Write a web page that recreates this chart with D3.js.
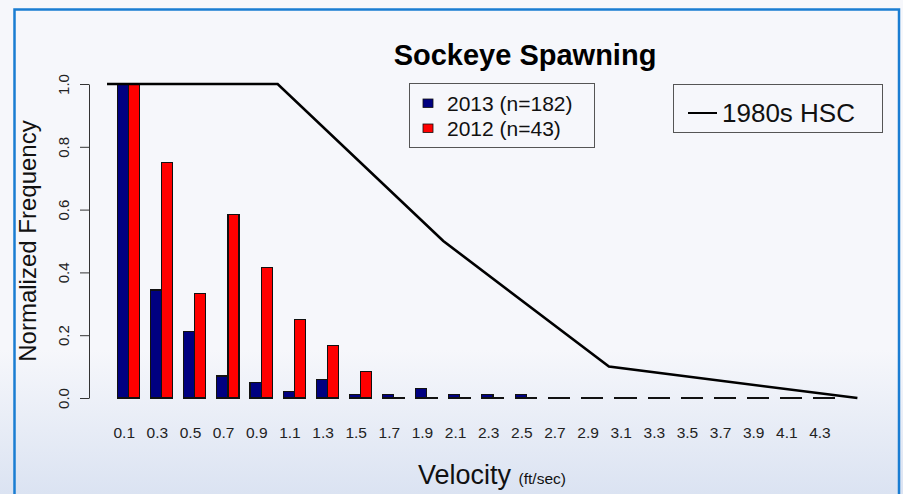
<!DOCTYPE html>
<html lang="en">
<head>
	<meta charset="utf-8">
	<title>Sockeye Spawning</title>
	<script src="https://cdn.jsdelivr.net/npm/d3@7"></script>
	<style>
		body { margin: 0; padding: 0; background: #f5f6fa; }
		svg { display: block; font-family: "Liberation Sans", Arial, sans-serif; }
	</style>
</head>
<body>
<script type="text/javascript">

	// Data
	var velocities = ["0.1", "0.3", "0.5", "0.7", "0.9", "1.1", "1.3", "1.5", "1.7", "1.9", "2.1",
	                  "2.3", "2.5", "2.7", "2.9", "3.1", "3.3", "3.5", "3.7", "3.9", "4.1", "4.3"];
	var series = ["2013", "2012"];
	var seriesLabels = ["2013 (n=182)", "2012 (n=43)"];
	var values2013 = [1.0, 0.344, 0.213, 0.07, 0.05, 0.02, 0.06, 0.01, 0.01, 0.03, 0.01,
	                  0.01, 0.01, 0, 0, 0, 0, 0, 0, 0, 0, 0];
	var values2012 = [1.0, 0.75, 0.333, 0.583, 0.417, 0.25, 0.167, 0.083, 0, 0, 0,
	                  0, 0, 0, 0, 0, 0, 0, 0, 0, 0, 0];
	// 1980s habitat suitability curve (velocity, suitability)
	var hscVelocity = [-0.03, 1.0, 2.0, 3.0, 4.5];
	var hscValue = [1.0, 1.0, 0.5, 0.1, 0.0];
	var yTicks = [0, 0.2, 0.4, 0.6, 0.8, 1.0];

	var colors = {"2013": "#000080", "2012": "#ff0000"};

	var width = 903, height = 494;

	var svg = d3.select("body")
				.append("svg")
				.attr("width", width)
				.attr("height", height);

	// background gradient
	var defs = svg.append("defs");
	var grad = defs.append("linearGradient")
				.attr("id", "bg")
				.attr("gradientUnits", "userSpaceOnUse")
				.attr("x1", 0).attr("y1", 350)
				.attr("x2", 0).attr("y2", 494);
	grad.append("stop").attr("offset", "0").attr("stop-color", "#f6f7fb");
	grad.append("stop").attr("offset", "1").attr("stop-color", "#dbe3f2");

	svg.append("rect")
		.attr("width", width)
		.attr("height", height)
		.attr("fill", "url(#bg)");

	// blue frame
	svg.append("rect")
		.attr("x", 14.5)
		.attr("y", 9.5)
		.attr("width", 884.5)
		.attr("height", 500)
		.attr("fill", "none")
		.attr("stroke", "#1a7dd2")
		.attr("stroke-width", 2.5);

	// Scales
	var xV = d3.scaleLinear()
				.domain([0, 4.5])
				.range([112, 857.4]);

	var x0 = d3.scaleBand()
				.domain(velocities)
				.range([xV(0), xV(4.4)])
				.paddingInner(1 / 3)
				.paddingOuter(1 / 6);

	var x1 = d3.scaleBand()
				.domain(series)
				.range([0, x0.bandwidth()]);

	var y = d3.scaleLinear()
				.domain([0, 1])
				.range([398, 84]);

	// Build rows for the grouped bars
	var rows = velocities.map(function(v, i) {
		return {vel: v, vals: [
			{key: "2013", value: values2013[i]},
			{key: "2012", value: values2012[i]}
		]};
	});

	// bars drawn as paths so zero height bars still show as a line
	var groups = svg.append("g")
				.selectAll("g")
				.data(rows)
				.enter()
					.append("g")
					.attr("transform", function(d) { return "translate(" + x0(d.vel) + ",0)"; });

	groups.selectAll("path")
		.data(function(d) { return d.vals; })
		.enter()
			.append("path")
			.attr("d", function(d) {
				var xl = x1(d.key), xr = xl + x1.bandwidth();
				return "M" + xl + "," + y(0) + "V" + y(d.value) + "H" + xr + "V" + y(0) + "Z";
			})
			.attr("fill", function(d) { return colors[d.key]; })
			.attr("stroke", "#111")
			.attr("stroke-width", 1.1)
			.attr("shape-rendering", "crispEdges");

	// HSC line
	var line = d3.line()
				.x(function(d) { return xV(d[0]); })
				.y(function(d) { return y(d[1]); });

	svg.append("path")
		.datum(hscVelocity.map(function(v, i) { return [v, hscValue[i]]; }))
		.attr("d", line)
		.attr("fill", "none")
		.attr("stroke", "#000")
		.attr("stroke-width", 2.6);

	// Y axis with rotated labels
	var yAxis = d3.axisLeft(y)
				.tickValues(yTicks)
				.tickFormat(d3.format(".1f"))
				.tickSize(9)
				.tickSizeOuter(0);

	var yg = svg.append("g")
				.attr("transform", "translate(89,0)")
				.call(yAxis);
	yg.select(".domain").attr("stroke", "#333");
	yg.selectAll(".tick line").attr("stroke", "#333");
	yg.selectAll(".tick text")
		.attr("x", null)
		.attr("dy", "0.35em")
		.attr("text-anchor", "middle")
		.attr("transform", "translate(-25.5,0) rotate(-90)")
		.attr("font-size", "15px")
		.attr("font-family", "Liberation Sans, Arial, sans-serif")
		.attr("fill", "#222");

	// X axis labels
	var xAxis = d3.axisBottom(x0)
				.tickSize(0)
				.tickPadding(29);

	var xg = svg.append("g")
				.attr("transform", "translate(-4.3," + y(0) + ")")
				.call(xAxis);
	xg.select(".domain").remove();
	xg.selectAll(".tick text")
		.attr("font-size", "15.5px")
		.attr("font-family", "Liberation Sans, Arial, sans-serif")
		.attr("fill", "#222");

	// Titles
	svg.append("text")
		.attr("x", 525)
		.attr("y", 65)
		.attr("text-anchor", "middle")
		.attr("font-size", "29px")
		.attr("font-weight", "bold")
		.attr("fill", "#000")
		.text("Sockeye Spawning");

	svg.append("text")
		.attr("transform", "translate(36,241) rotate(-90)")
		.attr("text-anchor", "middle")
		.attr("font-size", "24px")
		.attr("fill", "#111")
		.text("Normalized Frequency");

	var xt = svg.append("text")
		.attr("x", 418)
		.attr("y", 484)
		.attr("fill", "#111");
	xt.append("tspan").attr("font-size", "27px").text("Velocity ");
	xt.append("tspan").attr("font-size", "15.5px").text("(ft/sec)");

	// Legend for the bars
	var leg = svg.append("g");
	leg.append("rect")
		.attr("x", 409.5).attr("y", 83.5)
		.attr("width", 185).attr("height", 64)
		.attr("fill", "none")
		.attr("stroke", "#555");

	var items = leg.selectAll("g.item")
				.data(series)
				.enter()
					.append("g")
					.attr("class", "item")
					.attr("transform", function(d, i) { return "translate(0," + (i * 25) + ")"; });

	items.append("rect")
		.attr("x", 423).attr("y", 99)
		.attr("width", 10).attr("height", 8.5)
		.attr("fill", function(d) { return colors[d]; })
		.attr("stroke", "#111")
		.attr("stroke-width", 0.8);

	items.append("text")
		.attr("x", 447)
		.attr("y", 110.7)
		.attr("font-size", "21px")
		.attr("fill", "#111")
		.text(function(d, i) { return seriesLabels[i]; });

	// Legend for the HSC line
	var leg2 = svg.append("g");
	leg2.append("rect")
		.attr("x", 673.5).attr("y", 84.5)
		.attr("width", 209).attr("height", 48)
		.attr("fill", "none")
		.attr("stroke", "#555");
	leg2.append("line")
		.attr("x1", 688).attr("x2", 717)
		.attr("y1", 113).attr("y2", 113)
		.attr("stroke", "#000")
		.attr("stroke-width", 2);
	leg2.append("text")
		.attr("x", 722)
		.attr("y", 121.5)
		.attr("font-size", "26px")
		.attr("fill", "#111")
		.text("1980s HSC");

</script>
</body>
</html>
